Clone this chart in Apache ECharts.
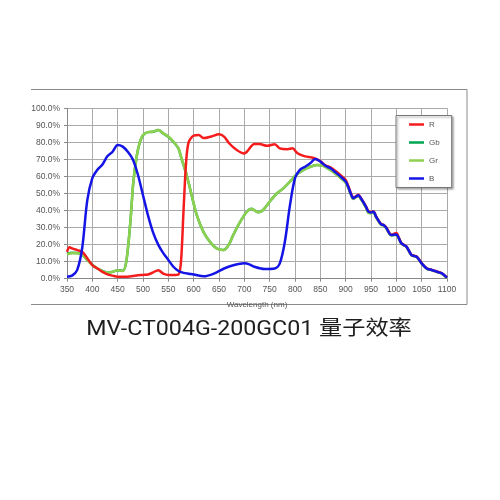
<!DOCTYPE html>
<html>
<head>
<meta charset="utf-8">
<script src="https://cdn.jsdelivr.net/npm/echarts@6/dist/echarts.min.js"></script>
<style>html,body{margin:0;padding:0;background:#fff;}#c{width:500px;height:500px;}</style>
</head>
<body>
<div id="c"></div>
<script>
// ---- data ----
const seriesNames = ['R', 'Gb', 'Gr', 'B'];
const xTicks = [350, 400, 450, 500, 550, 600, 650, 700, 750, 800, 850, 900, 950, 1000, 1050, 1100];

const bWl = [350,360,370,380,390,400,410,420,430,440,450,460,470,480,490,500,510,520,530,540,550,560,570,580,590,600,620,640,660,680,700,710,720,740,760,770,780,790,800,810,820,830,840,850,860,870,880,890,900,905,910,915,920,925,930,940,945,950,955,960,970,975,980,990,1000,1005,1010,1020,1030,1040,1050,1060,1070,1080,1090,1100];
const bVal = [1.2,1.8,5,18,46,59,64,67,72,74.5,78.5,77.5,74.5,70,61,49,37,27,20,15,11,7,4.5,3.4,2.9,2.5,1.4,3,6,8,9,8.4,7,5.7,6,9,21.7,43,59,64,65.7,67.7,70.3,68.7,66.3,64.8,62.4,59.9,57,54,50,47.2,48.1,49,47.2,42.3,39.3,38.9,39.3,36.4,31.9,31.5,29.9,25.6,26,23.7,20.7,18.8,13.9,12.9,9,6,5.1,4.1,3.1,0.6];

const rWl = [350,355,360,370,380,390,400,410,420,430,440,450,460,470,480,490,500,510,520,530,540,550,560,570,575,580,585,590,600,610,620,635,650,660,670,685,700,705,720,730,745,760,770,785,795,805,820,835,850,860,870,880,890,900,905,910,915,920,925,930,940,945,950,955,960,970,975,980,990,1000,1005,1010,1020,1030,1040,1050,1060,1070,1080,1090,1100];
const rVal = [15.8,18.5,17.8,16.8,15.8,12,8,6,4,2.5,1.8,1.2,1.2,1.2,1.6,2,2.2,2.5,3.7,5,3,2.2,2.2,2.5,10,40,68,80,84,84.3,82.5,83.5,84.7,83.4,79.5,75.5,73.5,74.5,79,79,78,78.9,76.5,76,76.5,73.6,71.8,71,69,66.5,65.3,63.2,60.8,58,54.5,50.5,47.5,48.3,49.2,47.4,42.5,39.6,39.2,39.5,36.6,32.1,31.7,30.2,25.8,26.8,24,20.9,18.9,14,13,9.1,6.1,5.2,4.2,3.2,0.7];

const grWl = [350,360,370,380,390,400,410,420,430,440,450,460,467,475,481,488,494,500,510,520,530,540,550,560,570,576,586,596,606,619,632,645,659,669,678,692,705,714,727,737,750,764,777,790,803,817,830,843,856,866,880,890,900,905,910,915,920,925,930,940,945,950,955,960,970,975,980,990,1000,1005,1010,1020,1030,1040,1050,1060,1070,1080,1090,1100];
const grVal = [14.3,15,15,14,11,8,6,4.5,3.5,4,5,4.5,10,33,57,72.6,80.4,84.3,86,86.3,87.3,85.3,83.4,80.4,76.5,70.6,61,49,37.4,27.6,21.7,17.8,16.8,19.8,25.6,33.5,39.3,41,39,40.3,45.2,50,53,57,61,63.8,65.7,66.7,66.3,64.4,61.5,59,56.3,53.5,49.5,46.8,47.8,48.6,46.8,41.8,38.6,38.4,38.9,36,31.6,31.2,29.6,25.4,25.8,23.5,20.5,18.6,13.7,12.8,8.9,5.9,5,4,3,0.5];

const gbWl = grWl;
const gbVal = [14.5,15.2,15.1,14,11,8.2,6,4.6,3.5,4.1,5,4.6,10,33,57,72.5,80.3,84.2,86,86.2,87.2,85.2,83.3,80.3,76.4,70.5,61,49,37.4,27.6,21.7,17.9,16.9,19.8,25.6,33.5,39.3,41,39,40.3,45.2,50,53,57,61,63.8,65.7,66.7,66.3,64.5,61.8,59.2,56.5,53.7,49.7,46.9,47.9,48.7,46.9,41.9,38.8,38.6,39,36.2,31.7,31.3,29.7,25.5,25.9,23.6,20.6,18.7,13.8,12.8,8.9,5.9,5,4,3,0.5];

const colors = { R: '#f41c1c', Gb: '#00a651', Gr: '#8fd14f', B: '#1414e6' };

function pairs(wl, v) { return wl.map((w, i) => [w, v[i]]); }

const chart = echarts.init(document.getElementById('c'), null, { renderer: 'canvas' });
const labelFont = '"Liberation Sans", Arial, sans-serif';

function line(name, wl, v) {
  return {
    name: name, type: 'line', data: pairs(wl, v), smooth: 0.3, symbol: 'none',
    lineStyle: { color: colors[name], width: 2.5 }, itemStyle: { color: colors[name] },
    animation: false
  };
}

chart.setOption({
  animation: false,
  grid: { left: 67, right: 53, top: 108.3, bottom: 221.3, containLabel: false },
  xAxis: {
    type: 'value', min: 350, max: 1100, interval: 50,
    name: 'Wavelength (nm)', nameLocation: 'middle', nameGap: 22,
    nameTextStyle: { fontSize: 8, color: '#555', fontFamily: labelFont },
    axisLine: { show: true, lineStyle: { color: '#888', width: 1 } },
    axisTick: { show: true, length: 3, lineStyle: { color: '#888' } },
    axisLabel: { fontSize: 8.5, color: '#555', margin: 6, fontFamily: labelFont,
      formatter: v => xTicks.indexOf(v) >= 0 ? String(v) : '' },
    splitLine: { show: true, lineStyle: { color: '#aaaaaa', width: 1 } }
  },
  yAxis: {
    type: 'value', min: 0, max: 100, interval: 10,
    axisLine: { show: true, lineStyle: { color: '#888', width: 1 } },
    axisTick: { show: true, length: 3, lineStyle: { color: '#888' } },
    axisLabel: { fontSize: 8.5, color: '#555', margin: 7, fontFamily: labelFont,
      formatter: v => v.toFixed(1) + '%' },
    splitLine: { show: true, lineStyle: { color: '#aaaaaa', width: 1 } }
  },
  legend: {
    data: seriesNames, orient: 'vertical', left: 396, top: 115.5,
    icon: 'rect', itemWidth: 15, itemHeight: 2.5, itemGap: 8,
    padding: [4, 12, 4, 13],
    backgroundColor: '#fff', borderColor: '#777', borderWidth: 1,
    shadowColor: 'rgba(0,0,0,0.35)', shadowBlur: 2, shadowOffsetX: 1.5, shadowOffsetY: 1.5,
    textStyle: { fontSize: 8, color: '#555', fontFamily: labelFont, lineHeight: 10 }
  },
  series: [
    line('Gb', gbWl, gbVal),
    line('Gr', grWl, grVal),
    line('R', rWl, rVal),
    line('B', bWl, bVal)
  ],
  graphic: [
    { type: 'polyline', shape: { points: [[31, 89.5], [467, 89.5], [467, 304.5], [31, 304.5]] },
      style: { stroke: '#8a8a8a', lineWidth: 1, fill: null }, z: 0 },
    { type: 'text', x: 249, y: 330, scaleX: 1.16,
      style: { text: 'MV-CT004G-200GC01 量子效率', font: '20px Roboto, "Noto Sans CJK SC", sans-serif',
        textAlign: 'center', textVerticalAlign: 'middle', fill: '#1e1e1e' } }
  ]
});
</script>
</body>
</html>
